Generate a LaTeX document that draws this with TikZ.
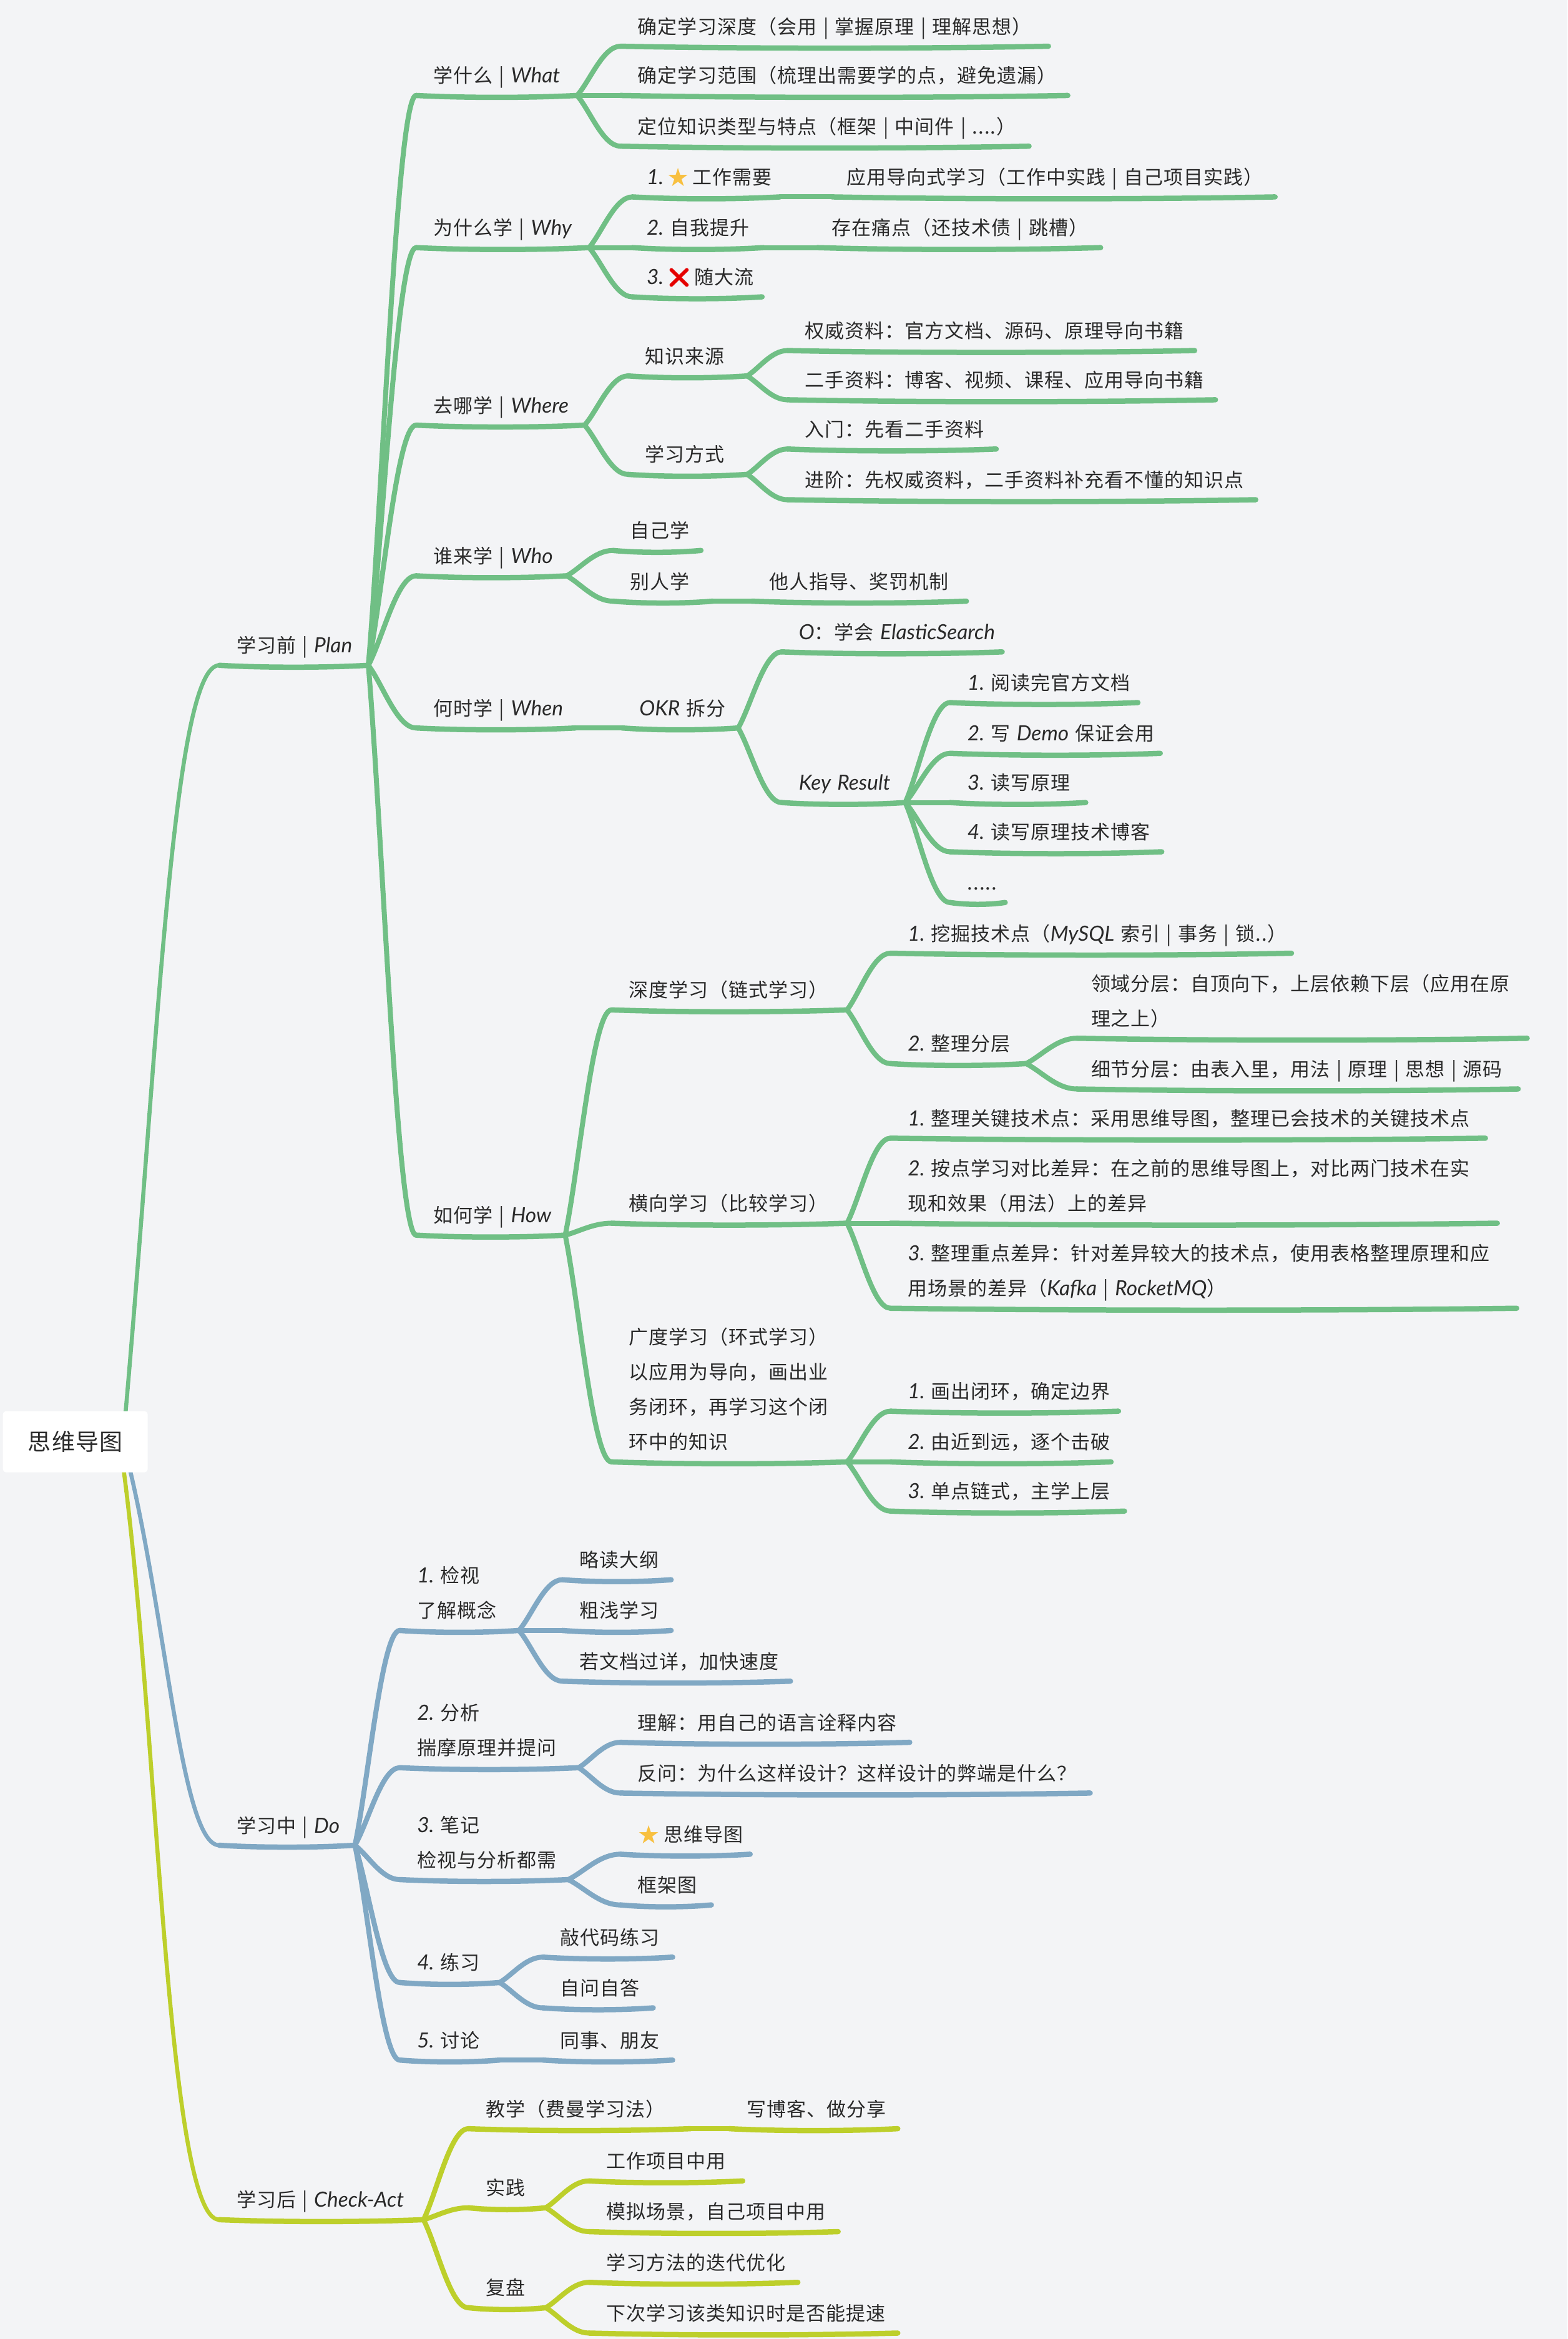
\documentclass[tikz,border=0pt]{standalone}
\usepackage{fontspec}
\setmainfont[LetterSpace=3.2]{Noto Sans CJK SC}
\newfontfamily\enf[Scale=1.08]{Lato}
\newfontfamily\emjf{Noto Emoji}
\newfontfamily\symf{DejaVu Sans}
\usetikzlibrary{calc}
\definecolor{bgc}{HTML}{F3F4F6}
\definecolor{grn}{HTML}{70BF85}
\definecolor{blu}{HTML}{80A8C4}
\definecolor{ylw}{HTML}{BDCF2B}
\definecolor{ink}{HTML}{2A2A2A}
\definecolor{gold}{HTML}{F8C040}
\pgfdeclarelayer{back}
\pgfsetlayers{back,main}
\newcommand{\E}[1]{\mbox{\enf\itshape #1}}
\newcommand{\starm}{\raisebox{-3pt}{\scalebox{1.3}{\color{gold}\symf ★}}}
\newcommand{\crossm}{{\color{red!90!black}\emjf ❌}}
\newcommand{\nudge}{\hspace*{-5pt}}
\def\lc{grn}
\tikzset{
  topic/.style={anchor=south west,inner xsep=28pt,inner ysep=10pt,outer sep=0pt,align=left,text=ink,
    font=\fontsize{31}{56}\selectfont},
  uline/.style={line width=8.5pt,line cap=round,draw=\lc},
  conn/.style={line width=8pt,line cap=round,draw=\lc},
  trunk/.style={line width=6.5pt,line cap=butt},
  rootnode/.style={fill=white,rounded corners=5pt,minimum width=232pt,minimum height=98pt,inner sep=0pt,text=ink,
    font=\fontsize{37}{44}\selectfont}
}
% name, x1, x2, y of the underline, text
\newcommand{\tp}[5]{%
  \pgfmathsetmacro{\tpwid}{(#3-#2)*2.3892}%
  \pgfmathsetmacro{\tptxt}{max(\tpwid-56,1)}%
  \pgfmathsetmacro{\tpctl}{0.3*\tpwid}%
  \node[topic,text width=\tptxt pt] (#1) at (#2,#4) {#5\rule[-10pt]{0pt}{30pt}};
  \draw[uline] (#1.south west) .. controls +(\tpctl pt,-4pt) and +(-\tpctl pt,-4pt) .. (#1.south east);
}
% parent -> child
\newcommand{\cn}[2]{%
  \draw[conn] let \p1=(#1.south east),\p2=(#2.south west),\n1={\x2-\x1},\n2={\y2-\y1} in
    (\p1) .. controls (\x1+0.3*\n1,\y1+0.3*\n2) and (\x1+0.6*\n1,\y2) .. (\p2);
}
\begin{document}
\begin{tikzpicture}[x=2.3892pt,y=-2.3897pt]
\useasboundingbox (0,0) rectangle (1051,1568);
\node[rootnode] (root) at (50.5,966.5) {思维导图};

% ---- Plan
\def\lc{grn}
\tp{plan}{147}{247}{446}{学习前~|~\E{Plan}}
\tp{what}{279}{387}{64}{学什么~|~\E{What}}
\tp{why}{279}{395}{166}{为什么学~|~\E{Why}}
\tp{where}{279}{392}{285}{去哪学~|~\E{Where}}
\tp{who}{279}{380}{386}{谁来学~|~\E{Who}}
\tp{when}{279}{386}{488}{何时学~|~\E{When}}
\tp{how}{279}{379}{828}{如何学~|~\E{How}}
\cn{plan}{what}\cn{plan}{why}\cn{plan}{where}\cn{plan}{who}\cn{plan}{when}\cn{plan}{how}

\tp{wa}{416}{703}{31}{确定学习深度（会用~|~掌握原理~|~理解思想）}
\tp{wb}{416}{716}{64}{确定学习范围（梳理出需要学的点，避免遗漏）}
\tp{wc}{416}{690}{98}{定位知识类型与特点（框架~|~中间件~|~....）}
\cn{what}{wa}\cn{what}{wb}\cn{what}{wc}

\tp{ya}{424}{523}{132}{\nudge\E{1.}\,\starm\,工作需要}
\tp{yb}{424}{512}{166}{\nudge\E{2.}~自我提升}
\tp{yc}{424}{511}{199}{\nudge\E{3.}\,\crossm\,随大流}
\tp{yaa}{558}{855}{132}{\nudge 应用导向式学习（工作中实践~|~自己项目实践）}
\tp{yba}{548}{738}{166}{\nudge 存在痛点（还技术债~|~跳槽）}
\cn{why}{ya}\cn{why}{yb}\cn{why}{yc}\cn{ya}{yaa}\cn{yb}{yba}

\tp{ra}{421}{501}{252}{知识来源}
\tp{rb}{421}{501}{318}{学习方式}
\tp{raa}{528}{801}{235}{权威资料：官方文档、源码、原理导向书籍}
\tp{rab}{528}{815}{268}{二手资料：博客、视频、课程、应用导向书籍}
\tp{rba}{528}{668}{301}{入门：先看二手资料}
\tp{rbb}{528}{842}{335}{进阶：先权威资料，二手资料补充看不懂的知识点}
\cn{where}{ra}\cn{where}{rb}\cn{ra}{raa}\cn{ra}{rab}\cn{rb}{rba}\cn{rb}{rbb}

\tp{oa}{411}{470}{369}{自己学}
\tp{ob}{411}{478}{403}{别人学}
\tp{oba}{504}{648}{403}{他人指导、奖罚机制}
\cn{who}{oa}\cn{who}{ob}\cn{ob}{oba}

\tp{okr}{417}{495}{488}{\E{OKR}~拆分}
\tp{obj}{524}{672}{437}{\E{O}：学会~\E{ElasticSearch}}
\tp{kr}{524}{607}{538}{\E{Key Result}}
\tp{ka}{637}{763}{471}{\E{1.}~阅读完官方文档}
\tp{kb}{637}{778}{505}{\E{2.}~写~\E{Demo}~保证会用}
\tp{kc}{637}{728}{538}{\E{3.}~读写原理}
\tp{kd}{637}{779}{571}{\E{4.}~读写原理技术博客}
\tp{ke}{637}{674}{605}{.....}
\cn{when}{okr}\cn{okr}{obj}\cn{okr}{kr}
\cn{kr}{ka}\cn{kr}{kb}\cn{kr}{kc}\cn{kr}{kd}\cn{kr}{ke}

\tp{ha}{410}{568}{677}{深度学习（链式学习）}
\tp{hb}{410}{568}{820}{横向学习（比较学习）}
\tp{hc}{410}{568}{980}{广度学习（环式学习）\\以应用为导向，画出业\\务闭环，再学习这个闭\\环中的知识}
\cn{how}{ha}\cn{how}{hb}\cn{how}{hc}
\tp{haa}{597}{866}{639}{\E{1.}~挖掘技术点（\E{MySQL}~索引~|~事务~|~锁..）}
\tp{hab}{597}{688}{713}{\E{2.}~整理分层}
\tp{haba}{722}{1024}{696}{\nudge 领域分层：自顶向下，上层依赖下层（应用在原\\\nudge 理之上）}
\tp{habb}{722}{1018}{730}{\nudge 细节分层：由表入里，用法~|~原理~|~思想~|~源码}
\cn{ha}{haa}\cn{ha}{hab}\cn{hab}{haba}\cn{hab}{habb}
\tp{hba}{597}{996}{763}{\E{1.}~整理关键技术点：采用思维导图，整理已会技术的关键技术点}
\tp{hbb}{597}{1004}{820}{\E{2.}~按点学习对比差异：在之前的思维导图上，对比两门技术在实\\现和效果（用法）上的差异}
\tp{hbc}{597}{1017}{877}{\E{3.}~整理重点差异：针对差异较大的技术点，使用表格整理原理和应\\用场景的差异（\E{Kafka}~|~\E{RocketMQ}）}
\cn{hb}{hba}\cn{hb}{hbb}\cn{hb}{hbc}
\tp{hca}{597}{750}{946}{\E{1.}~画出闭环，确定边界}
\tp{hcb}{597}{745}{980}{\E{2.}~由近到远，逐个击破}
\tp{hcc}{597}{754}{1013}{\E{3.}~单点链式，主学上层}
\cn{hc}{hca}\cn{hc}{hcb}\cn{hc}{hcc}

% ---- Do
\def\lc{blu}
\tp{do}{147}{238}{1237}{学习中~|~\E{Do}}
\tp{da}{268}{348}{1093}{\E{1.}~检视\\了解概念}
\tp{db}{268}{388}{1185}{\E{2.}~分析\\揣摩原理并提问}
\tp{dc}{268}{381}{1260}{\E{3.}~笔记\\检视与分析都需}
\tp{dd}{268}{335}{1329}{\E{4.}~练习}
\tp{de}{268}{335}{1381}{\E{5.}~讨论}
\cn{do}{da}\cn{do}{db}\cn{do}{dc}\cn{do}{dd}\cn{do}{de}
\tp{daa}{377}{450}{1059}{略读大纲}
\tp{dab}{377}{450}{1093}{粗浅学习}
\tp{dac}{377}{530}{1127}{若文档过详，加快速度}
\cn{da}{daa}\cn{da}{dab}\cn{da}{dac}
\tp{dba}{416}{610}{1168}{理解：用自己的语言诠释内容}
\tp{dbb}{416}{731}{1202}{反问：为什么这样设计？这样设计的弊端是什么？}
\cn{db}{dba}\cn{db}{dbb}
\tp{dca}{416}{503}{1243}{\starm\,思维导图}
\tp{dcb}{416}{477}{1277}{框架图}
\cn{dc}{dca}\cn{dc}{dcb}
\tp{dda}{364}{451}{1312}{敲代码练习}
\tp{ddb}{364}{438}{1346}{自问自答}
\cn{dd}{dda}\cn{dd}{ddb}
\tp{dea}{364}{451}{1381}{同事、朋友}
\cn{de}{dea}

% ---- Check-Act
\def\lc{ylw}
\tp{ca}{147}{284}{1488}{学习后~|~\E{Check-Act}}
\tp{cta}{314}{463}{1427}{教学（费曼学习法）}
\tp{ctb}{314}{366}{1480}{实践}
\tp{ctc}{314}{366}{1547}{复盘}
\cn{ca}{cta}\cn{ca}{ctb}\cn{ca}{ctc}
\tp{ctaa}{489}{602}{1427}{写博客、做分享}
\cn{cta}{ctaa}
\tp{ctba}{395}{498}{1462}{工作项目中用}
\tp{ctbb}{395}{562}{1496}{模拟场景，自己项目中用}
\cn{ctb}{ctba}\cn{ctb}{ctbb}
\tp{ctca}{395}{535}{1530}{学习方法的迭代优化}
\tp{ctcb}{395}{602}{1564}{下次学习该类知识时是否能提速}
\cn{ctc}{ctca}\cn{ctc}{ctcb}

% ---- trunks, behind the central topic
\begin{pgfonlayer}{back}
\fill[bgc] (0,0) rectangle (1051,1568);
\draw[trunk,draw=grn] ([xshift=-36pt,yshift=-6pt]root.north east) .. controls (106,700) and (116,446) .. (plan.south west);
\draw[trunk,draw=ylw] ([xshift=-39pt,yshift=6pt]root.south east) .. controls (106,1160) and (112,1488) .. (ca.south west);
\draw[trunk,draw=blu] ([xshift=-29pt,yshift=6pt]root.south east) .. controls (112,1090) and (122,1237) .. (do.south west);
\end{pgfonlayer}
\end{tikzpicture}
\end{document}
